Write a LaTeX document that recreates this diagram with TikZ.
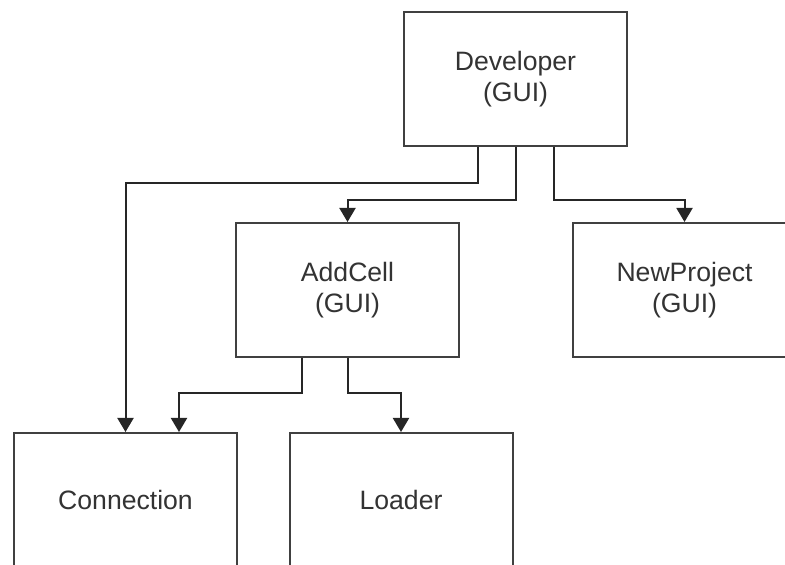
\documentclass[tikz,border=0pt]{standalone}
\usepackage{fontspec}
\setmainfont{Liberation Sans}
\usetikzlibrary{arrows.meta, calc}
\tikzset{module/.style={shape=rectangle, draw=black!75, line width=1pt,
    fill=white, align=center, text=black!80, inner sep=0pt,
    minimum width=111.5pt, minimum height=67pt,
    font=\fontsize{13.3pt}{15.5pt}\selectfont}}
\tikzset{link/.style={draw=black!85, line width=1pt,
    -{Triangle[width=8pt,length=7pt]}}}

\begin{document}
\begin{tikzpicture}[x=0.5pt, y=-0.5pt]
      \useasboundingbox (0,0) rectangle (785,565);
      \clip (0,0) rectangle (785,565);
      \node[module] (dev) at (515.5,79) {Developer\\(GUI)};
      \node[module] (add) at (347.5,290) {AddCell\\(GUI)};
      \node[module] (newp) at (684.5,290) {NewProject\\(GUI)};
      \node[module] (conn) at (125.5,500) {Connection};
      \node[module] (load) at (401,500) {Loader};
      % bus lines
      \coordinate (busa) at (0,183);
      \coordinate (busb) at (0,200);
      \coordinate (busc) at (0,393);
      \path[link] ($(dev.south)+(-37.5,0)$) |- (busa -| conn.north) -- (conn.north);
      \path[link] (dev.south) |- (busb -| add.north) -- (add.north);
      \path[link] ($(dev.south)+(38.5,0)$) |- (busb -| newp.north) -- (newp.north);
      \path[link] ($(add.south)+(-45.5,0)$) |- ($(busc -| conn.north)+(53.5,0)$) -- ($(conn.north)+(53.5,0)$);
      \path[link] (add.south) |- (busc -| load.north) -- (load.north);
\end{tikzpicture}
\end{document}
